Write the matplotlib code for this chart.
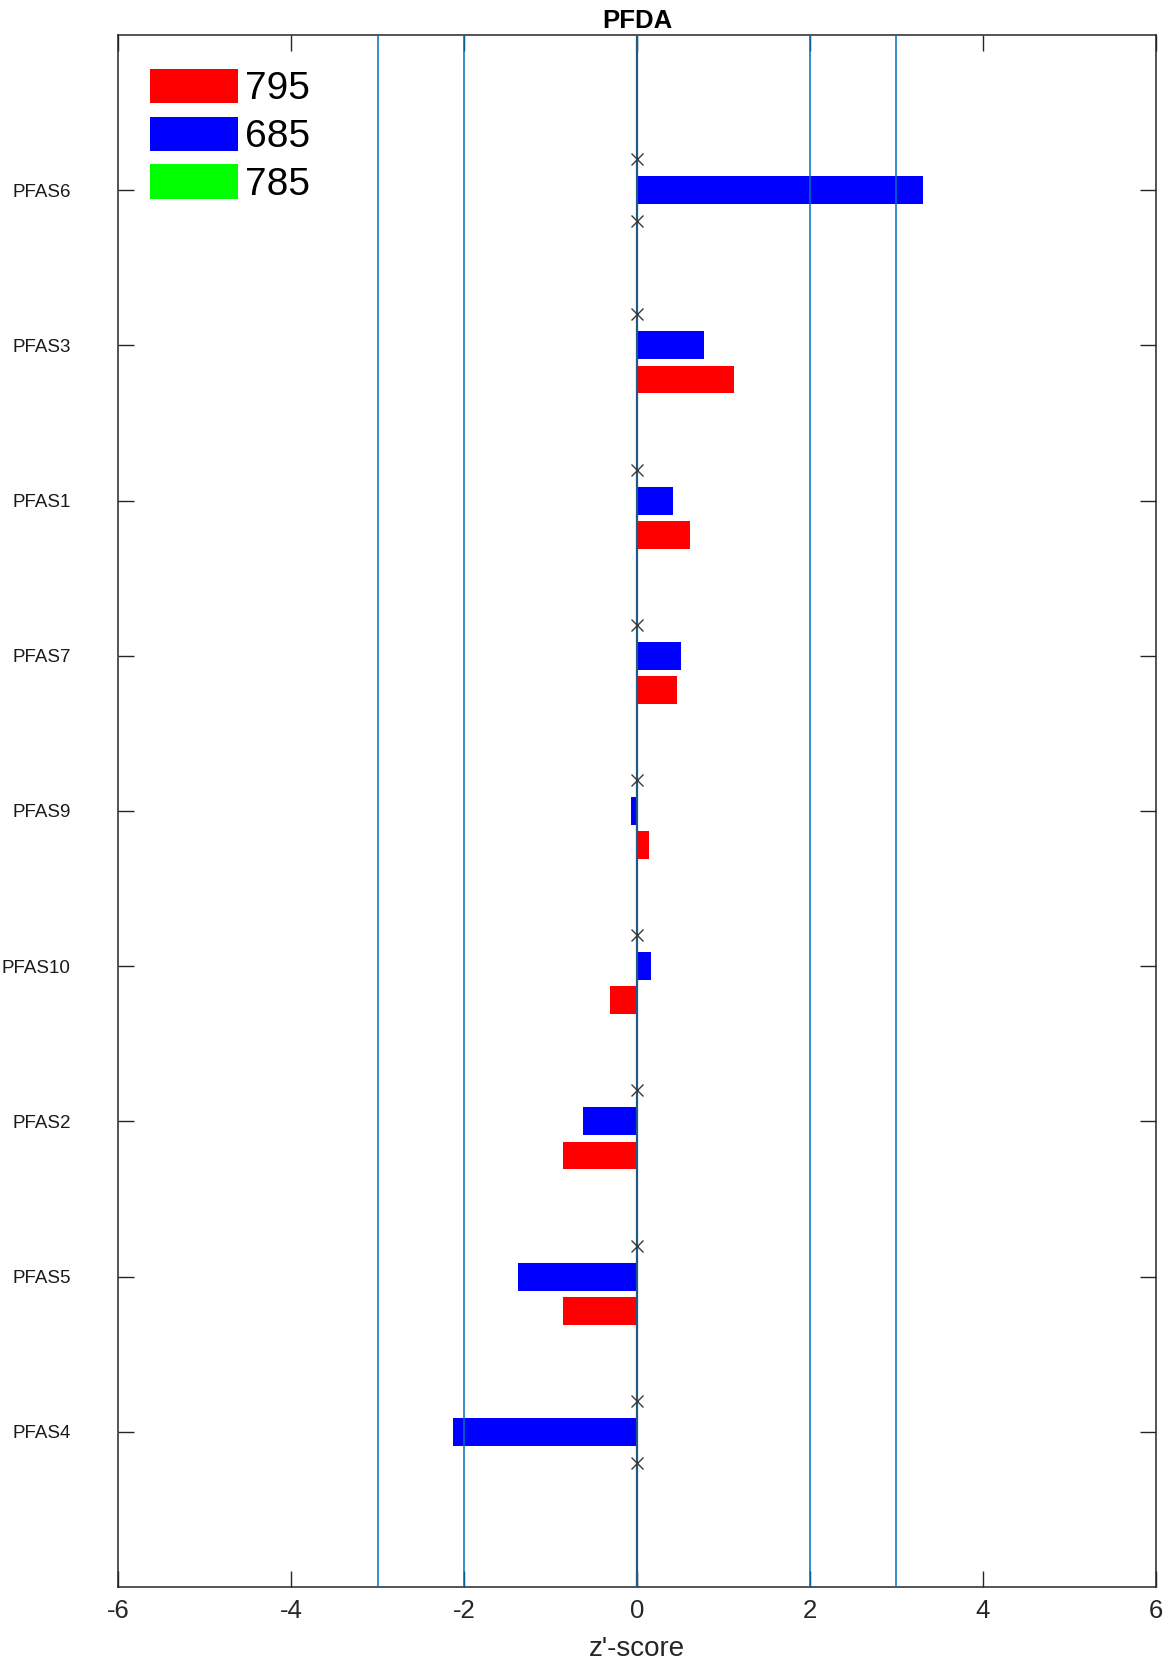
import numpy as np
import matplotlib.pyplot as plt

plt.rcParams['font.family'] = ['Liberation Sans', 'DejaVu Sans']

# data, top to bottom
compounds = ['PFAS6', 'PFAS3', 'PFAS1', 'PFAS7', 'PFAS9', 'PFAS10', 'PFAS2', 'PFAS5', 'PFAS4']
z_795 = [np.nan, 1.12, 0.61, 0.46, 0.14, -0.31, -0.85, -0.85, np.nan]
z_685 = [3.31, 0.78, 0.42, 0.51, -0.07, 0.16, -0.63, -1.38, -2.13]
z_785 = [np.nan] * 9
ref_lines = [-3, -2, 2, 3]
xticks = [-6, -4, -2, 0, 2, 4, 6]

y = np.arange(1, len(compounds) + 1)
off = 0.22
h = 0.18

fig = plt.figure(figsize=(11.7, 16.64), dpi=100)
ax = fig.add_axes([0.1009, 0.0463, 0.8871, 0.9327])

b_red = ax.barh(y + off, np.nan_to_num(z_795), height=h, color='#ff0000', zorder=2)
b_blue = ax.barh(y, np.nan_to_num(z_685), height=h, color='#0000ff', zorder=2)
b_green = ax.barh(y - off, np.nan_to_num(z_785), height=h, color='#00ff00', zorder=2)

# missing values are marked with an x at zero
for vals, pos in [(z_795, y + 0.2), (z_785, y - 0.2)]:
    miss = np.isnan(vals)
    ax.plot(np.zeros(miss.sum()), pos[miss], 'x', color='#3a3a3a', ms=9, mew=1.0, zorder=4)

for xv in ref_lines:
    ax.axvline(xv, color='#0072BD', lw=1.1, zorder=3)
ax.axvline(0, color='#1d5a85', lw=1.6, zorder=3)

ax.set_xlim(-6, 6)
ax.set_ylim(10, 0)
ax.set_xticks(xticks)
ax.set_xticklabels([str(t) for t in xticks])
ax.set_yticks(y)
ax.set_yticklabels(compounds)
ax.tick_params(axis='both', direction='in', length=11.5, width=1.0, color='#262626',
               top=True, right=True)
ax.tick_params(axis='x', labelsize=18.5, pad=9, labelcolor='#262626')
ax.tick_params(axis='y', labelsize=13.5, pad=34, labelcolor='#1a1a1a')
for s in ax.spines.values():
    s.set_color('#262626')
    s.set_linewidth(1.1)

ax.set_xlabel("z'-score", fontsize=20, color='#262626', labelpad=9)
ax.set_title('PFDA', fontsize=18.5, fontweight='bold', pad=5)

ax.legend([b_red, b_blue, b_green], ['795', '685', '785'], loc='upper left',
          bbox_to_anchor=(0.031, 0.978), frameon=False, fontsize=28,
          handlelength=2.26, handleheight=0.97, handletextpad=0.18,
          labelspacing=0.24, borderpad=0, borderaxespad=0)

fig.savefig('out.png', dpi=100)
